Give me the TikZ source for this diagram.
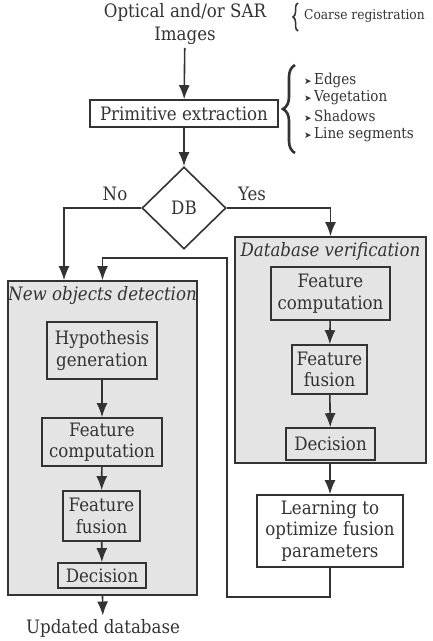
\documentclass[tikz,border=0pt]{standalone}
\usepackage{fontspec}
\setmainfont{DejaVu Serif Condensed}
\newfontfamily\symfont{DejaVu Sans}
\usetikzlibrary{
    arrows.meta,
    shapes.geometric,
    decorations.pathreplacing,
    positioning
}
\definecolor{ink}{HTML}{333333}
\definecolor{panel}{HTML}{E4E4E4}
\tikzset{
    box/.style={draw=ink, line width=1.6pt, fill=panel, inner sep=0pt, align=center,
        text=ink, font=\fontsize{18.5}{21.5}\selectfont},
    group/.style={draw=ink, line width=1.6pt, fill=panel, inner sep=0pt},
    arr/.style={draw=ink, line width=1.6pt, -{Latex[length=14pt,width=11pt]}},
    lbl/.style={text=ink, align=center, font=\fontsize{18.5}{22.5}\selectfont},
    side/.style={text=ink, anchor=west, inner sep=0pt, font=\fontsize{15}{18}\selectfont}
}
\newcommand{\tick}{{\symfont\fontsize{9}{9}\selectfont ➤}\,}

\begin{document}
\begin{tikzpicture}[x=1pt, y=-1pt]
    \useasboundingbox (0,0) rectangle (432,641);
    % input and first steps
    \node[lbl] (src) at (185,24) {Optical and/or SAR\\Images};
    \node[box, fill=white, minimum width=188, minimum height=27] (prim) at (184,113.5) {Primitive extraction};
    \node[draw=ink, line width=1.6pt, diamond, aspect=1, inner sep=0pt,
        minimum width=84, minimum height=82, lbl] (db) at (184,208) {DB};
    \node[lbl] (no) at (115,194) {No};
    \node[lbl] (yes) at (252,194) {Yes};
    % side notes
    \draw[ink, line width=1.5pt, decorate,
        decoration={brace, amplitude=5pt}] (298,31) -- (298,3);
    \node[side, font=\fontsize{13.6}{16}\selectfont] (reg) at (304,16) {Coarse registration};
    \draw[ink, line width=2.6pt, decorate,
        decoration={brace, amplitude=12pt}] (295,153) -- (295,65);
    \node[side] (e1) at (304,80) {\tick Edges};
    \node[side] (e2) at (304,98) {\tick Vegetation};
    \node[side] (e3) at (304,116) {\tick Shadows};
    \node[side] (e4) at (304,135) {\tick Line segments};
    % database verification
    \node[group, minimum width=191, minimum height=226] (dbv) at (330.5,350) {};
    \node[lbl, font=\fontsize{18.5}{21.5}\selectfont\itshape] (dbvt) at (330.5,251) {Database verification};
    \node[box, minimum width=119, minimum height=53] (fc2) at (330.5,293.5) {Feature\\computation};
    \node[box, minimum width=75, minimum height=49] (ff2) at (329.5,369.5) {Feature\\fusion};
    \node[box, minimum width=89, minimum height=32] (dec2) at (330.5,444) {Decision};
    \node[box, fill=white, minimum width=146, minimum height=72] (learn) at (330,531) {Learning to\\optimize fusion\\parameters};
    % new objects detection
    \node[group, minimum width=189, minimum height=314] (nod) at (102.5,438) {};
    \node[lbl, font=\fontsize{18.5}{21.5}\selectfont\itshape] (nodt) at (102.5,296) {New objects detection};
    \node[box, minimum width=110, minimum height=57] (hyp) at (102,350.5) {Hypothesis\\generation};
    \node[box, minimum width=120, minimum height=48] (fc1) at (102,442) {Feature\\computation};
    \node[box, minimum width=77, minimum height=50] (ff1) at (101.5,516) {Feature\\fusion};
    \node[box, minimum width=88, minimum height=25] (dec1) at (102,575.5) {Decision};
    \node[lbl] (out) at (103,628) {Updated database};
    % connectors
    \draw[arr] (src) -- (prim);
    \draw[arr] (prim) -- (db);
    \draw[arr] (db.west) -| ([xshift=-38.5pt]nod.north);
    \draw[arr] (db.east) -| (dbv.north);
    \draw[arr] (fc2) -- (ff2);
    \draw[arr] (ff2) -- (dec2);
    \draw[arr] (dbv.south -| learn.north) -- (learn.north);
    \draw[arr] (learn.south) |- (227,597) -- (227,258) -| (nod.north);
    \draw[arr] (hyp) -- (fc1);
    \draw[arr] (fc1) -- (ff1);
    \draw[arr] (ff1) -- (dec1);
    \draw[arr] (nod.south) -- (out);
\end{tikzpicture}
\end{document}
